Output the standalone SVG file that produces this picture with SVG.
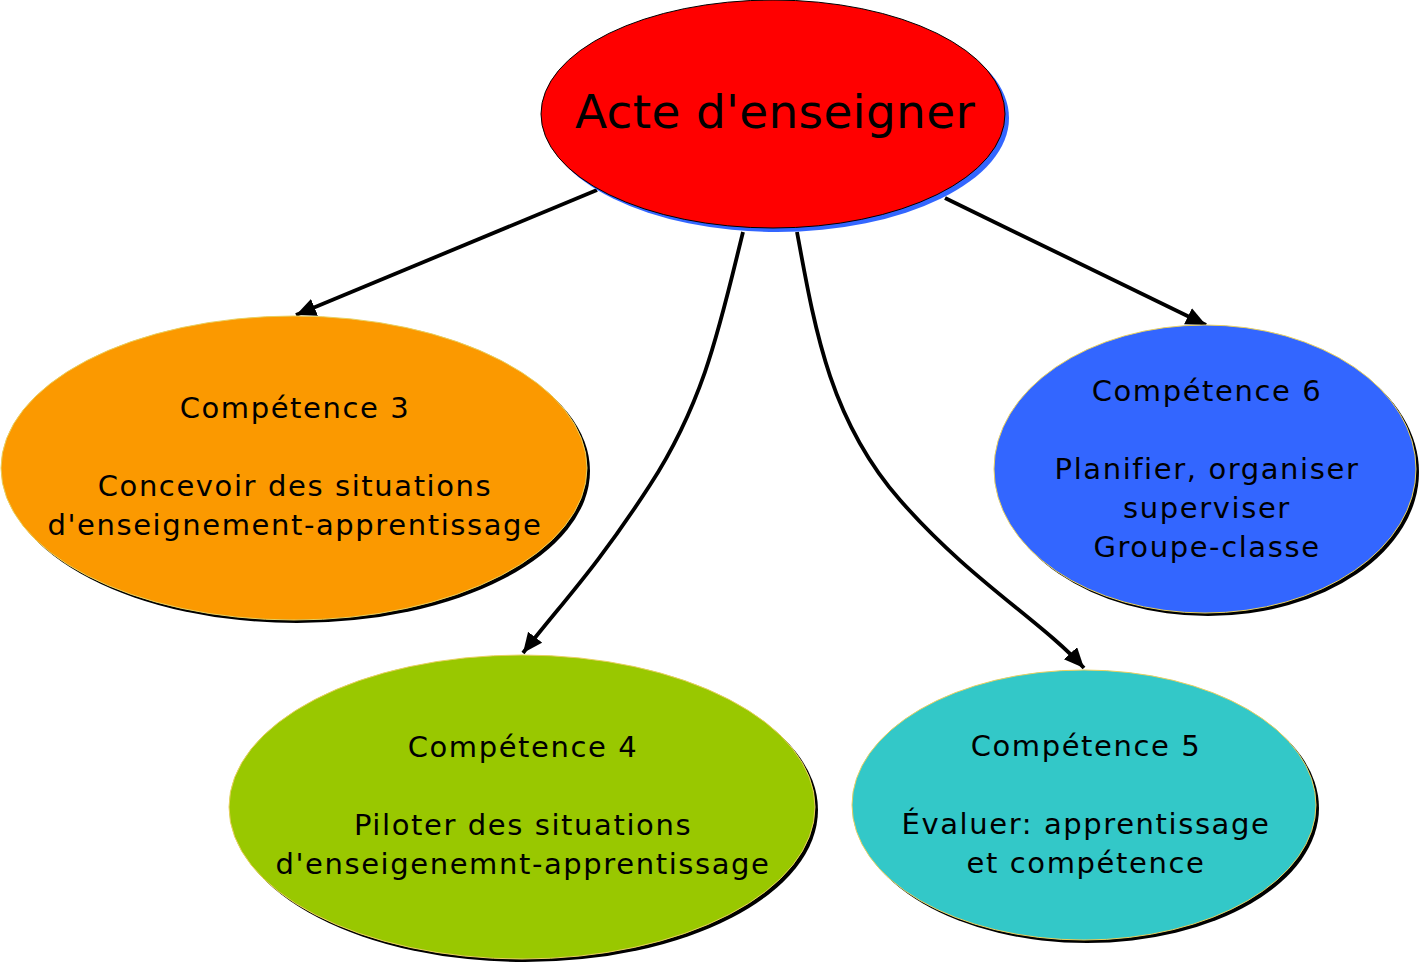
<svg xmlns="http://www.w3.org/2000/svg" width="1424" height="965" viewBox="0 0 1424 965">
<style>
.lbl{font-family:"DejaVu Sans","Verdana",sans-serif;font-size:29px;letter-spacing:1.6px;fill:#000;text-anchor:middle}
.main{font-family:"DejaVu Sans","Verdana",sans-serif;font-size:47px;letter-spacing:0.3px;fill:#000;text-anchor:middle}
.sh{fill:#000}
.node{stroke:#e8d060;stroke-width:1}
.conn{fill:none;stroke:#000;stroke-width:3.8}
</style>
<defs>
<marker id="arr" markerUnits="userSpaceOnUse" markerWidth="22" markerHeight="20" refX="20" refY="9" orient="auto">
<path d="M0,0 L20,9 L0,18 Z" fill="#000"/>
</marker>
</defs>
<rect width="1424" height="965" fill="#fff"/>
<g id="connectors">
<path class="conn" d="M597,190 L296,315" marker-end="url(#arr)"/>
<path class="conn" d="M743,232 C720,325 705,400 650,485 S560,605 523,653" marker-end="url(#arr)"/>
<path class="conn" d="M797,232 C815,330 830,420 900,500 S1040,620 1084,668" marker-end="url(#arr)"/>
<path class="conn" d="M945,198 L1206,325" marker-end="url(#arr)"/>
</g>
<g id="main">
<ellipse cx="777" cy="118" rx="232" ry="114" fill="#3366ff"/>
<ellipse cx="773" cy="114" rx="232" ry="114" fill="#ff0000" stroke="#000" stroke-width="1"/>
<text class="main" x="775" y="128">Acte d'enseigner</text>
</g>
<g id="c3">
<ellipse class="sh" cx="297" cy="471" rx="293" ry="152"/>
<ellipse class="node" cx="294" cy="468" rx="293" ry="152" fill="#fb9900"/>
<text class="lbl" x="295" y="418">Compétence 3</text>
<text class="lbl" x="295" y="496">Concevoir des situations</text>
<text class="lbl" x="295" y="535">d'enseignement-apprentissage</text>
</g>
<g id="c4">
<ellipse class="sh" cx="525" cy="810" rx="293" ry="152"/>
<ellipse class="node" cx="522" cy="807" rx="293" ry="152" fill="#99c800"/>
<text class="lbl" x="523" y="757">Compétence 4</text>
<text class="lbl" x="523" y="835">Piloter des situations</text>
<text class="lbl" x="523" y="874">d'enseigenemnt-apprentissage</text>
</g>
<g id="c5">
<ellipse class="sh" cx="1087" cy="808" rx="232" ry="135"/>
<ellipse class="node" cx="1084" cy="805" rx="232" ry="135" fill="#33c8c8"/>
<text class="lbl" x="1086" y="756">Compétence 5</text>
<text class="lbl" x="1086" y="834">Évaluer: apprentissage</text>
<text class="lbl" x="1086" y="873">et compétence</text>
</g>
<g id="c6">
<ellipse class="sh" cx="1208" cy="472" rx="211" ry="144"/>
<ellipse class="node" cx="1205" cy="469" rx="211" ry="144" fill="#3366ff"/>
<text class="lbl" x="1207" y="401">Compétence 6</text>
<text class="lbl" x="1207" y="479">Planifier, organiser</text>
<text class="lbl" x="1207" y="518">superviser</text>
<text class="lbl" x="1207" y="557">Groupe-classe</text>
</g>
</svg>
